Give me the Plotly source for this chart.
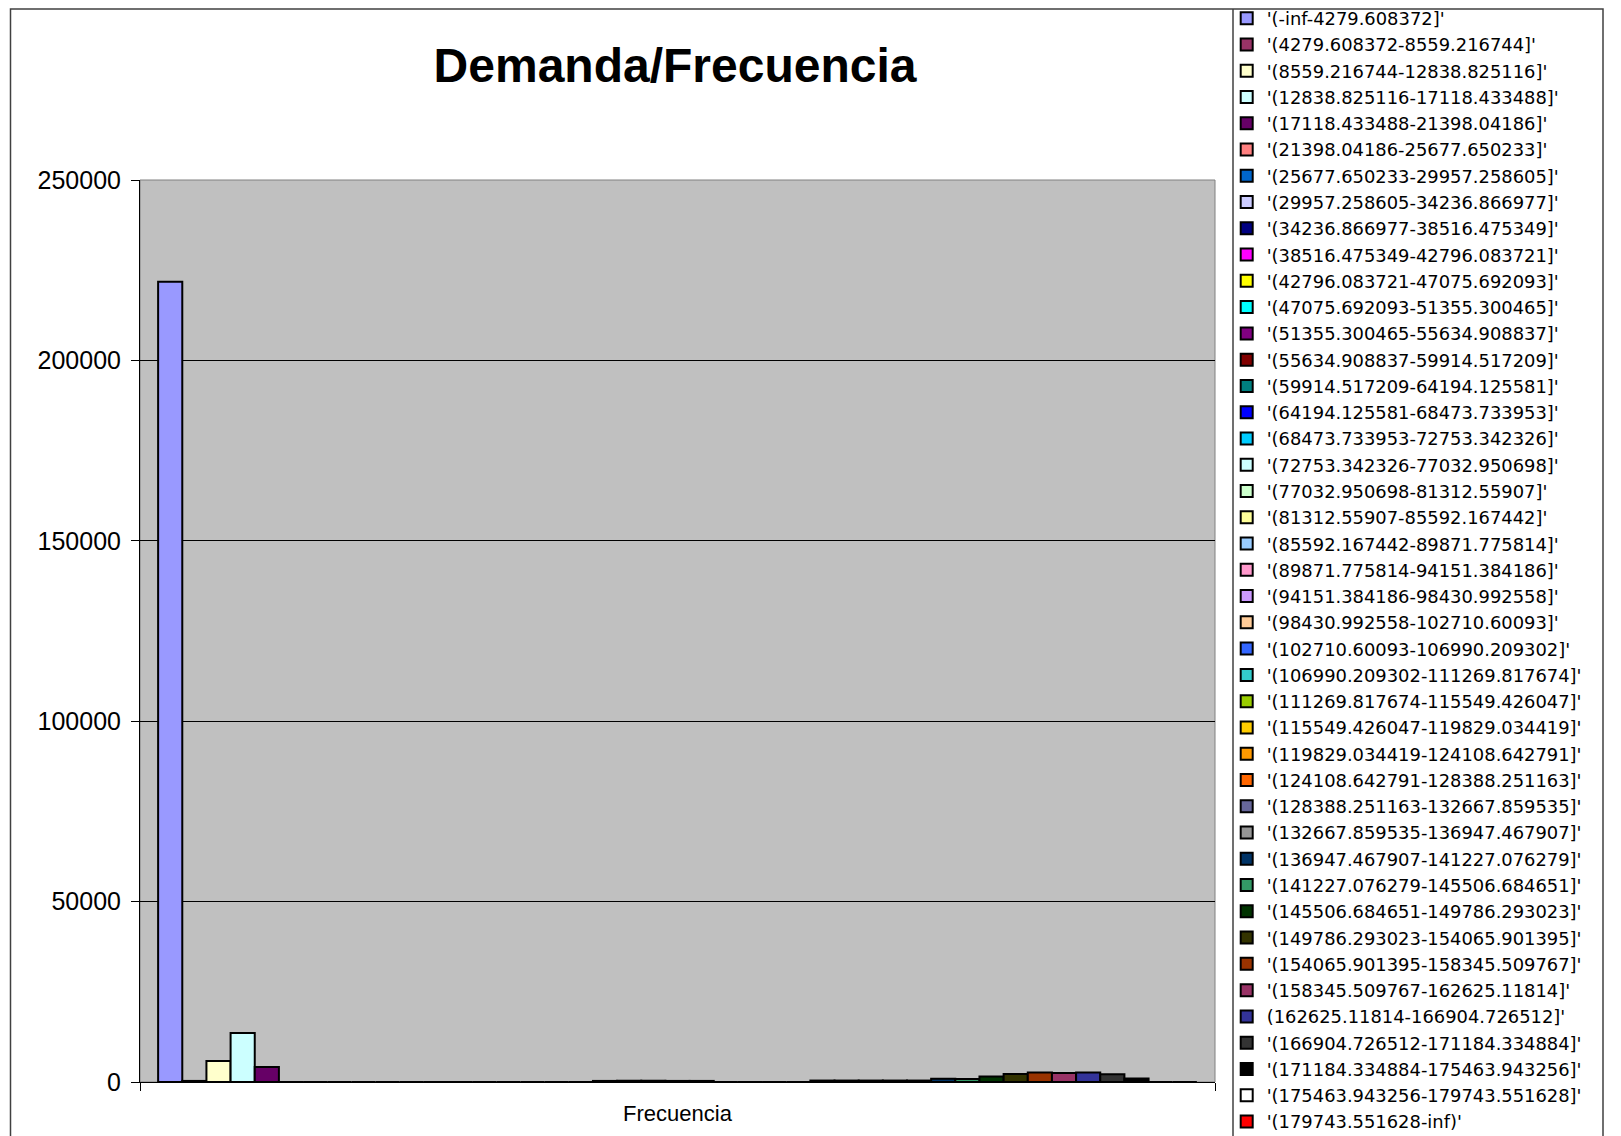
import plotly.graph_objects as go

# Demanda / Frecuencia - one category, 43 interval series (Excel style clustered columns)
categoria = ["Frecuencia"]

intervalos = [
    "'(-inf-4279.608372]'",
    "'(4279.608372-8559.216744]'",
    "'(8559.216744-12838.825116]'",
    "'(12838.825116-17118.433488]'",
    "'(17118.433488-21398.04186]'",
    "'(21398.04186-25677.650233]'",
    "'(25677.650233-29957.258605]'",
    "'(29957.258605-34236.866977]'",
    "'(34236.866977-38516.475349]'",
    "'(38516.475349-42796.083721]'",
    "'(42796.083721-47075.692093]'",
    "'(47075.692093-51355.300465]'",
    "'(51355.300465-55634.908837]'",
    "'(55634.908837-59914.517209]'",
    "'(59914.517209-64194.125581]'",
    "'(64194.125581-68473.733953]'",
    "'(68473.733953-72753.342326]'",
    "'(72753.342326-77032.950698]'",
    "'(77032.950698-81312.55907]'",
    "'(81312.55907-85592.167442]'",
    "'(85592.167442-89871.775814]'",
    "'(89871.775814-94151.384186]'",
    "'(94151.384186-98430.992558]'",
    "'(98430.992558-102710.60093]'",
    "'(102710.60093-106990.209302]'",
    "'(106990.209302-111269.817674]'",
    "'(111269.817674-115549.426047]'",
    "'(115549.426047-119829.034419]'",
    "'(119829.034419-124108.642791]'",
    "'(124108.642791-128388.251163]'",
    "'(128388.251163-132667.859535]'",
    "'(132667.859535-136947.467907]'",
    "'(136947.467907-141227.076279]'",
    "'(141227.076279-145506.684651]'",
    "'(145506.684651-149786.293023]'",
    "'(149786.293023-154065.901395]'",
    "'(154065.901395-158345.509767]'",
    "'(158345.509767-162625.11814]'",
    "(162625.11814-166904.726512]'",
    "'(166904.726512-171184.334884]'",
    "'(171184.334884-175463.943256]'",
    "'(175463.943256-179743.551628]'",
    "'(179743.551628-inf)'",
]

frecuencias = [
    221800, 300, 5820, 13590, 4160,
    0, 0, 0, 0, 0, 0, 0, 0, 0, 0, 0, 0, 0,
    300, 350, 350, 300, 300,
    0, 0, 0, 0,
    400, 400, 400, 400, 400,
    900, 800, 1500, 2200, 2600, 2500, 2600, 2130, 940,
    0, 0,
]

colores = [
    "#9999FF", "#993366", "#FFFFCC", "#CCFFFF", "#660066", "#FF8080", "#0066CC",
    "#CCCCFF", "#000080", "#FF00FF", "#FFFF00", "#00FFFF", "#800080", "#800000",
    "#008080", "#0000FF", "#00CCFF", "#CCFFFF", "#CCFFCC", "#FFFF99", "#99CCFF",
    "#FF99CC", "#CC99FF", "#FFCC99", "#3366FF", "#33CCCC", "#99CC00", "#FFCC00",
    "#FF9900", "#FF6600", "#666699", "#969696", "#003366", "#339966", "#003300",
    "#333300", "#993300", "#993366", "#333399", "#333333", "#000000", "#FFFFFF",
    "#FF0000",
]

# the page puts the figure 8px in from the top-left corner
OFF = 8
W, H = 1621, 1136
L, T = 140 - OFF, 180 - OFF
pw, ph = 1075, 902
R, B = W - L - pw, H - T - ph


def px_x(x):
    # page x -> paper x
    return (x - OFF - L) / pw


def px_y(y):
    # page y -> paper y
    return (T + ph - (y - OFF)) / ph


fig = go.Figure()
for nombre, valor, color in zip(intervalos, frecuencias, colores):
    fig.add_trace(go.Bar(x=categoria, y=[valor], name=nombre,
                         marker=dict(color=color, line=dict(color="black", width=2))))

fig.update_layout(
    width=W, height=H,
    margin=dict(l=L, r=R, t=T, b=B, autoexpand=False),
    paper_bgcolor="white",
    plot_bgcolor="#C0C0C0",
    barmode="group",
    bargap=1.5 / 44.5,
    bargroupgap=0,
    font=dict(family="Liberation Sans, Arial", color="black"),
    title=dict(text="Demanda/Frecuencia", x=0.4977, xref="paper", xanchor="center",
               y=1 - (65 - OFF) / H, yanchor="middle",
               font=dict(size=48, weight="bold", family="Liberation Sans, Arial")),
    legend=dict(x=px_x(1226.7), xanchor="left", y=px_y(0), yanchor="top",
                font=dict(size=17.9, family="DejaVu Sans"),
                bgcolor="rgba(0,0,0,0)", borderwidth=0, maxheight=1400,
                traceorder="normal"),
    showlegend=True,
)

fig.update_yaxes(range=[0, 250000], tickvals=[0, 50000, 100000, 150000, 200000, 250000],
                 tickformat="d", showgrid=True, gridcolor="black", gridwidth=1,
                 showline=True, linecolor="black", linewidth=1,
                 ticks="outside", ticklen=8, tickcolor="black",
                 tickfont=dict(size=25), ticklabelstandoff=5, zeroline=False)
fig.update_xaxes(showline=True, linecolor="black", linewidth=1,
                 ticks="outside", ticklen=8, tickcolor="black", tickson="boundaries",
                 tickfont=dict(size=22), ticklabelstandoff=12, showgrid=False)

# plot area frame, chart frame and legend frame
top = OFF + 1
fig.add_shape(type="rect", xref="paper", yref="paper", x0=0, x1=1, y0=0, y1=1,
              line=dict(color="#808080", width=1), layer="below")
fig.add_shape(type="rect", xref="paper", yref="paper",
              x0=px_x(10.5), x1=px_x(1603), y0=px_y(1160), y1=px_y(top),
              line=dict(color="#404040", width=1.5))
fig.add_shape(type="line", xref="paper", yref="paper",
              x0=px_x(1233), x1=px_x(1233), y0=px_y(1160), y1=px_y(top),
              line=dict(color="#404040", width=1.5))

fig.write_html("out.html")
